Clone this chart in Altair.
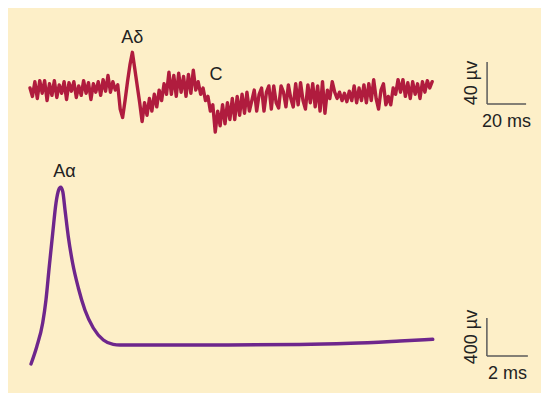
import altair as alt
import pandas as pd

# ---------------- data ----------------
# Top recording: sampled every 1.25 ms, values in microvolts
top_dt = 1.25
top_uv = [
    0, -8, 6, -10, 7, -5, 7, -12, 4, -7,
    7, -9, 3, -5, 6, -11, 5, -3, 6, -9,
    2, -7, 7, -5, 5, -11, 4, -4, 6, -7,
    8, -3, 12, -4, 6, -2, 3, -20, -28, -12,
    6, 22, 34, 18, 2, -14, -32, -14, -26, -10,
    -22, -6, -18, -2, -12, 4, -6, 15, -6, 12,
    -8, 14, -4, 11, -8, 13, -5, 17, -2, 6,
    -6, 0, -12, -8, -22, -16, -42, -22, -36, -16,
    -34, -14, -30, -10, -30, -8, -26, -6, -24, -4,
    -22, -12, -2, -22, -6, 0, -22, -4, 2, -20,
    2, -14, -19, 2, -4, -18, 3, -10, -18, 4,
    -16, 5, -12, -20, 3, -14, 4, -18, 2, -22,
    6, -24, -2, -10, 6, -4, -10, -4, -12, -5,
    -13, -3, -12, 2, -14, 0, -12, 3, -14, 4,
    -12, 8, -10, -20, -2, 4, -16, -8, -16, 0,
    -6, 8, -4, 8, -8, 5, -10, 6, -6, 4,
    -10, 6, -4, 7, 0, 6,
]
top_t = [i * top_dt for i in range(len(top_uv))]

# Bottom recording (ms, microvolts)
bot_t = [0.0, 0.28, 0.57, 0.73, 0.89, 1.06, 1.22, 1.35, 1.45, 1.55, 1.66,
         1.82, 2.03, 2.31, 2.63, 3.04, 3.53, 4.01, 4.34, 8.24, 13.1, 15.6,
         18.0, 19.6]
bot_uv = [-200, -18, 232, 474, 824, 1179, 1495, 1632, 1660, 1614, 1421,
          1140, 863, 600, 368, 179, 53, 7, 0, 0, 5, 18, 42, 60]

# labels
top_labels = ["Aδ", "C"]
top_label_t = [52.5, 95.4]
top_label_uv = [43, 7.6]
bot_labels = ["Aα"]
bot_label_t = [1.63]
bot_label_uv = [1768]

# scale bars: origin, length in data units
top_bar = dict(t0=234.4, uv0=-15.2, dt=20, duv=40, tlabel="20 ms", vlabel="40 µv")
bot_bar = dict(t0=22.24, uv0=-115.8, dt=2, duv=400, tlabel="2 ms", vlabel="400 µv")

# ---------------- style ----------------
BG = "#fdefc8"
RED = "#b01c3e"
PURPLE = "#6e268c"
BAR = "#5a5a5a"
TXT = "#222222"
FONT = "Liberation Sans"
FS = 18
W = 533
H1 = 140
H2 = 245


def panel(t, uv, color, xdom, ydom, labels, lt, luv, bar, h, interp, sw):
    xs = alt.Scale(domain=xdom, nice=False, zero=False)
    ys = alt.Scale(domain=ydom, nice=False, zero=False)
    df = pd.DataFrame({"t": t, "uv": uv})
    line = alt.Chart(df).mark_line(
        color=color, strokeWidth=sw, strokeJoin="round", strokeCap="round",
        interpolate=interp
    ).encode(
        x=alt.X("t:Q", scale=xs, axis=None),
        y=alt.Y("uv:Q", scale=ys, axis=None),
    )
    ldf = pd.DataFrame({"t": lt, "uv": luv, "lab": labels})
    lab = alt.Chart(ldf).mark_text(
        font=FONT, fontSize=FS, color=TXT, align="center", baseline="alphabetic"
    ).encode(x=alt.X("t:Q", scale=xs), y=alt.Y("uv:Q", scale=ys), text="lab:N")

    bdf = pd.DataFrame({
        "x1": [bar["t0"], bar["t0"]],
        "x2": [bar["t0"], bar["t0"] + bar["dt"]],
        "y1": [bar["uv0"], bar["uv0"]],
        "y2": [bar["uv0"] + bar["duv"], bar["uv0"]],
    })
    bars = alt.Chart(bdf).mark_rule(color=BAR, strokeWidth=1.5).encode(
        x=alt.X("x1:Q", scale=xs), x2="x2:Q",
        y=alt.Y("y1:Q", scale=ys), y2="y2:Q",
    )
    # horizontal label under the bar
    hdf = pd.DataFrame({"t": [bar["t0"] + bar["dt"] / 2], "uv": [bar["uv0"]], "lab": [bar["tlabel"]]})
    hlab = alt.Chart(hdf).mark_text(
        font=FONT, fontSize=FS, color=TXT, align="center", baseline="top", dy=9
    ).encode(x=alt.X("t:Q", scale=xs), y=alt.Y("uv:Q", scale=ys), text="lab:N")
    # vertical label left of the bar
    vdf = pd.DataFrame({"t": [bar["t0"]], "uv": [bar["uv0"] + bar["duv"] / 2], "lab": [bar["vlabel"]]})
    vlab = alt.Chart(vdf).mark_text(
        font=FONT, fontSize=FS, color=TXT, align="center", baseline="alphabetic",
        angle=270, dy=-10
    ).encode(x=alt.X("t:Q", scale=xs), y=alt.Y("uv:Q", scale=ys), text="lab:N")

    return alt.layer(line, lab, bars, hlab, vlab).properties(width=W, height=h)


top = panel(top_t, top_uv, RED, [-11.28, 262.05], [-57.14, 76.19],
            top_labels, top_label_t, top_label_uv, top_bar, H1, "linear", 3.4)
bot = panel(bot_t, bot_uv, PURPLE, [-1.122, 24.88], [-505.3, 2073.7],
            bot_labels, bot_label_t, bot_label_uv, bot_bar, H2, "monotone", 3.4)

chart = alt.vconcat(top, bot, spacing=0).properties(
    padding=0, background=BG
).configure_view(stroke=None)

chart.save("out.html", embed_options={"renderer": "svg", "actions": False})
